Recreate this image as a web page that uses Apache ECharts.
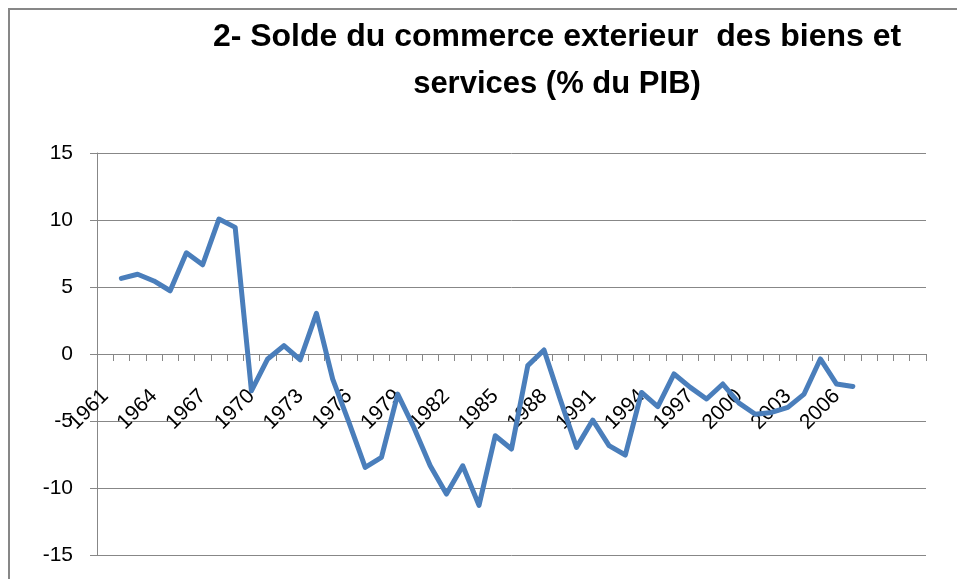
<!DOCTYPE html>
<html>
<head>
<meta charset="utf-8">
<script src="https://cdn.jsdelivr.net/npm/echarts@6/dist/echarts.min.js"></script>
<style>
html,body{margin:0;padding:0;background:#fff;}
#chart{width:957px;height:579px;}
</style>
</head>
<body>
<div id="chart"></div>
<script>
var titleLine1 = "2- Solde du commerce exterieur  des biens et";
var titleLine2 = "services (% du PIB)";

var years = ["1961","1962","1963","1964","1965","1966","1967","1968","1969","1970",
  "1971","1972","1973","1974","1975","1976","1977","1978","1979","1980",
  "1981","1982","1983","1984","1985","1986","1987","1988","1989","1990",
  "1991","1992","1993","1994","1995","1996","1997","1998","1999","2000",
  "2001","2002","2003","2004","2005","2006","2007","2008","2009","2010","2011"];

// last category that carries a label in the original (blank rows after it)
var lastLabelledYear = "2007";

var solde = [null, 5.64, 5.95, 5.45, 4.72, 7.55, 6.66, 10.07, 9.45, -2.75,
  -0.37, 0.62, -0.43, 3.03, -1.87, -5.1, -8.46, -7.72, -2.99, -5.5,
  -8.34, -10.45, -8.34, -11.3, -6.1, -7.09, -0.87, 0.3, -3.4, -6.97,
  -4.93, -6.84, -7.54, -2.87, -3.93, -1.49, -2.49, -3.36, -2.24, -3.67,
  -4.5, -4.36, -3.98, -2.99, -0.37, -2.24, -2.42];

var yTicks = { min: -15, max: 15, interval: 5 };

var gridTop = 153, gridBottom = 24, chartH = 579;
var plotH = chartH - gridTop - gridBottom;
var zeroOffset = plotH * (0 - yTicks.min) / (yTicks.max - yTicks.min);
var lastIdx = years.indexOf(lastLabelledYear);

var chart = echarts.init(document.getElementById('chart'), null, {renderer: 'canvas'});
var gridColor = '#878787';
chart.setOption({
  animation: false,
  backgroundColor: '#ffffff',
  graphic: [
    { type: 'rect', z: 0, shape: { x: 9, y: 9, width: 1000, height: 1000 },
      style: { fill: 'none', stroke: gridColor, lineWidth: 2 } },
    { type: 'text', x: 557, y: 37, style: { text: titleLine1, font: 'bold 32px "Liberation Sans", Arial, sans-serif',
      align: 'center', verticalAlign: 'middle', fill: '#000' } },
    { type: 'text', x: 557, y: 84, style: { text: titleLine2, font: 'bold 31px "Liberation Sans", Arial, sans-serif',
      align: 'center', verticalAlign: 'middle', fill: '#000' } }
  ],
  grid: { left: 97, right: 31, top: gridTop, bottom: gridBottom, containLabel: false, outerBoundsMode: 'none' },
  xAxis: {
    type: 'category',
    data: years,
    boundaryGap: true,
    position: 'bottom',
    offset: -zeroOffset,
    axisLine: { onZero: false, lineStyle: { color: gridColor, width: 1 } },
    axisTick: { show: true, interval: 0, inside: false, length: 7, lineStyle: { color: gridColor, width: 1 } },
    axisLabel: { interval: 2, rotate: 45, margin: 39, fontSize: 21, color: '#000',
      fontFamily: '"Liberation Sans", Arial, sans-serif', hideOverlap: false,
      formatter: function (v, i) { return i > lastIdx ? '' : v; } },
    splitLine: { show: false }
  },
  yAxis: {
    type: 'value',
    min: yTicks.min, max: yTicks.max, interval: yTicks.interval,
    axisLine: { show: true, lineStyle: { color: gridColor, width: 1 } },
    axisTick: { show: true, length: 7, lineStyle: { color: gridColor, width: 1 } },
    axisLabel: { margin: 24, fontSize: 21, color: '#000', fontFamily: '"Liberation Sans", Arial, sans-serif' },
    splitLine: { show: true, lineStyle: { color: gridColor, width: 1 } }
  },
  series: [{
    type: 'line',
    data: solde,
    showSymbol: false,
    symbol: 'none',
    connectNulls: false,
    lineStyle: { color: '#4a7ebb', width: 5, join: 'round', cap: 'round' },
    itemStyle: { color: '#4a7ebb' }
  }]
});
</script>
</body>
</html>
